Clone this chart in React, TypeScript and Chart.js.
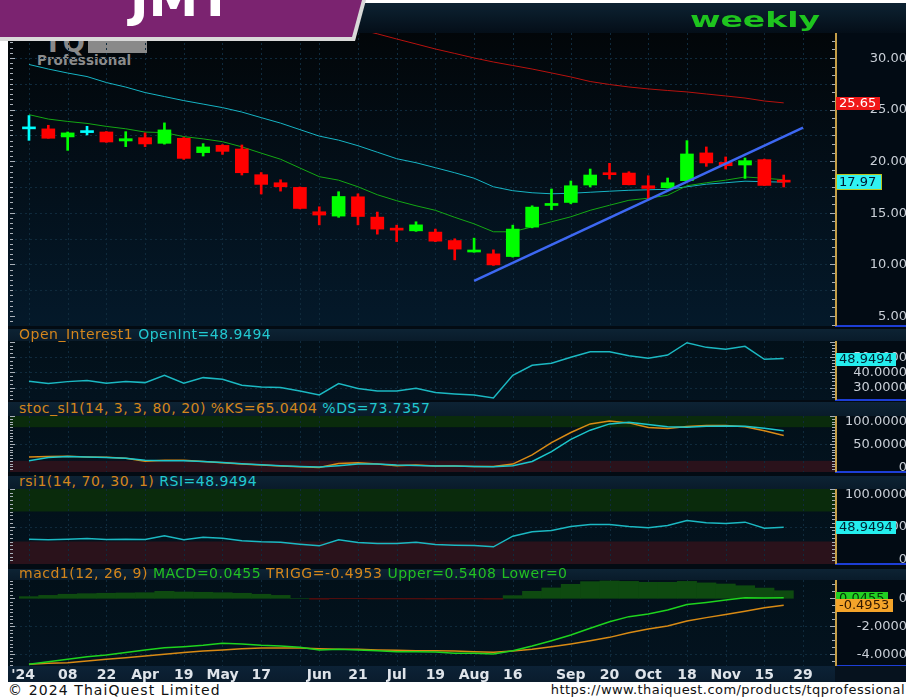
import React, { useEffect, useRef } from "react";
import { Chart, registerables } from "chart.js";

Chart.register(...registerables);

const FONT = '"DejaVu Sans", Verdana, sans-serif';

// ---------- time axis: weekly bars, index 0 = 23 Feb 2024 ----------
const X_MIN = -0.98;
const X_MAX = 41.65;
const GRID_IDX = [0, 2, 4, 6, 8, 10, 12, 14, 15, 17, 19, 21, 23, 25, 27, 28, 30, 32, 34, 36, 38, 40];
const X_LABEL_IDX = [-0.3, 2, 4, 6, 8, 10, 12, 15, 17, 19, 21, 23, 25, 28, 30, 32, 34, 36, 38, 40];
const X_LABELS = ["'24", "08", "22", "Apr", "19", "May", "17", "Jun", "21", "Jul", "19", "Aug", "16", "Sep", "20", "Oct", "18", "Nov", "15", "29"];

// ---------- price candles ----------
const OPEN = [23.13, 23.13, 22.35, 22.77, 22.83, 21.96, 22.28, 21.73, 22.22, 20.83, 21.53, 21.18, 18.69, 17.91, 17.46, 15.10, 14.68, 16.55, 14.58, 13.45, 13.25, 13.13, 12.31, 11.20, 11.02, 10.76, 13.61, 15.71, 16.00, 17.69, 18.88, 18.85, 17.62, 17.43, 18.11, 20.80, 19.88, 19.63, 20.15, 18.05];
const HIGH = [24.42, 23.48, 22.83, 23.38, 22.87, 22.86, 22.74, 23.71, 22.30, 21.70, 21.60, 21.57, 18.90, 18.20, 17.50, 15.58, 17.04, 16.84, 15.07, 13.80, 14.13, 13.42, 12.48, 12.54, 11.41, 13.80, 15.68, 17.30, 18.08, 19.24, 19.79, 18.98, 18.59, 18.37, 21.99, 21.38, 20.41, 20.31, 20.20, 18.66];
const LOW = [22.02, 22.22, 21.05, 22.54, 21.83, 21.41, 21.41, 21.65, 20.17, 20.50, 20.66, 18.66, 16.82, 17.10, 15.38, 13.83, 14.56, 13.83, 12.93, 12.21, 13.20, 12.20, 10.44, 11.18, 9.90, 10.70, 13.54, 15.29, 15.87, 17.50, 18.27, 17.70, 16.33, 17.40, 18.10, 19.50, 19.24, 18.33, 17.65, 17.50];
const CLOSE = [23.13, 22.22, 22.74, 22.77, 21.86, 22.18, 21.67, 23.03, 20.27, 21.38, 20.95, 18.88, 17.75, 17.52, 15.42, 14.78, 16.58, 14.64, 13.42, 13.32, 13.83, 12.25, 11.48, 11.26, 9.95, 13.42, 15.55, 15.90, 17.62, 18.66, 18.69, 17.72, 17.36, 17.91, 20.70, 19.83, 19.56, 20.05, 17.65, 17.97];

// ---------- moving averages ----------
const MA_GREEN = [24.51, 24.08, 23.85, 23.66, 23.37, 23.14, 22.82, 22.77, 22.38, 22.16, 21.89, 21.39, 20.78, 20.19, 19.34, 18.50, 18.16, 17.52, 16.75, 16.17, 15.68, 15.24, 14.56, 13.93, 13.16, 13.16, 13.64, 14.13, 14.61, 15.24, 15.73, 16.21, 16.41, 16.70, 17.62, 17.91, 18.16, 18.47, 18.35, 18.20];
const MA_CYAN = [29.37, 28.93, 28.54, 28.20, 27.62, 27.18, 26.65, 26.26, 25.87, 25.53, 25.19, 24.76, 24.22, 23.69, 23.06, 22.43, 22.04, 21.50, 20.87, 20.24, 19.85, 19.37, 18.88, 18.35, 17.52, 17.14, 16.94, 16.84, 16.89, 16.99, 17.09, 17.18, 17.23, 17.28, 17.52, 17.77, 17.91, 18.06, 18.01, 17.97];
const MA_RED_START = 16;
const MA_RED = [33.29, 32.81, 32.34, 31.84, 31.36, 30.87, 30.44, 30.00, 29.61, 29.27, 28.93, 28.55, 28.16, 27.72, 27.43, 27.19, 27.00, 26.85, 26.71, 26.51, 26.32, 26.12, 25.83, 25.65];
const TREND_X = [23, 40];
const TREND_Y = [8.40, 23.25];
const MAIN_TICKS = [5, 10, 15, 20, 25, 30];

// ---------- indicators ----------
const OPEN_INT = [34.13, 32.61, 33.91, 34.57, 32.83, 33.91, 33.26, 38.04, 32.83, 36.52, 35.43, 31.52, 30.43, 30.00, 27.83, 25.22, 32.61, 29.35, 27.83, 27.83, 29.57, 26.74, 25.87, 25.22, 23.26, 38.04, 44.57, 45.87, 49.78, 53.48, 53.48, 50.87, 49.13, 51.30, 59.35, 56.30, 55.00, 56.96, 48.48, 48.95];
const OI_TICKS = [30, 40, 50];

const STOCH_K = [27.0, 27.6, 28.2, 27.0, 26.4, 24.7, 19.4, 21.1, 21.1, 18.8, 16.4, 14.1, 12.3, 10.5, 9.4, 8.2, 15.3, 16.4, 14.1, 11.1, 12.3, 10.5, 10.5, 10.0, 10.0, 14.1, 30.6, 52.4, 70.6, 85.9, 91.2, 87.7, 79.5, 77.7, 81.2, 83.0, 83.0, 80.6, 73.6, 65.04];
const STOCH_D = [20.0, 25.9, 27.6, 27.0, 25.9, 24.7, 21.1, 20.0, 20.0, 18.8, 17.0, 14.7, 12.9, 11.1, 10.0, 8.8, 11.1, 14.1, 14.1, 12.3, 11.7, 10.5, 10.5, 10.0, 9.4, 11.1, 18.8, 36.5, 58.2, 74.7, 85.9, 88.9, 84.7, 80.6, 80.0, 81.7, 82.3, 81.7, 78.3, 73.74];
const STOCH_TICKS = [0, 50, 100];

const RSI = [33.1, 32.2, 33.1, 34.0, 32.7, 33.1, 32.7, 37.6, 32.2, 35.8, 34.4, 30.9, 29.6, 29.1, 26.4, 24.2, 32.2, 28.7, 27.3, 27.3, 29.1, 26.0, 25.1, 24.7, 22.9, 37.1, 42.9, 44.7, 50.0, 52.7, 52.7, 50.0, 48.2, 51.3, 58.0, 54.9, 54.0, 55.8, 47.8, 48.95];
const RSI_TICKS = [0, 50, 100];

const MACD = [-4.71, -4.53, -4.36, -4.17, -4.05, -3.88, -3.69, -3.53, -3.46, -3.36, -3.21, -3.26, -3.36, -3.41, -3.50, -3.69, -3.64, -3.69, -3.74, -3.81, -3.81, -3.84, -3.93, -3.93, -3.98, -3.74, -3.41, -3.03, -2.62, -2.14, -1.67, -1.31, -1.12, -0.84, -0.45, -0.30, -0.12, 0.04, 0.03, 0.0455];
const TRIGG = [-4.71, -4.64, -4.60, -4.48, -4.36, -4.24, -4.12, -4.00, -3.88, -3.76, -3.69, -3.60, -3.55, -3.55, -3.55, -3.60, -3.64, -3.64, -3.69, -3.71, -3.74, -3.74, -3.76, -3.81, -3.86, -3.76, -3.64, -3.46, -3.26, -3.03, -2.79, -2.46, -2.19, -1.98, -1.62, -1.38, -1.16, -0.92, -0.68, -0.4953];
const HIST = [0.12, 0.21, 0.29, 0.33, 0.36, 0.38, 0.40, 0.50, 0.45, 0.43, 0.40, 0.36, 0.29, 0.21, 0.00, -0.07, -0.03, -0.03, -0.05, -0.05, -0.05, -0.06, -0.05, -0.05, -0.07, 0.19, 0.50, 0.74, 1.00, 1.19, 1.24, 1.21, 1.14, 1.14, 1.21, 1.10, 1.02, 0.90, 0.73, 0.54];
const MACD_TICKS = [-4, -2, 0];

// ---------- layout constants ----------
const CANVAS_LEFT = 10;
const CANVAS_W = 898;
const AXIS_W = 73;

const pts = (arr: number[], start = 0) => arr.map((v, i) => ({ x: i + start, y: v }));

type Box = { value: number; text: string; bg: string; fg: string; border?: string };
type Decor = {
  zones?: { from: number; to: number; color: string }[];
  hgrid?: number[];
  stepL: number;
  stepR: number;
  major: number;
  dec: number;
  boxes?: Box[];
};

function makeDecor(o: Decor) {
  return {
    id: "decor",
    beforeDatasetsDraw(chart: any) {
      const { ctx, chartArea: a } = chart;
      const xs = chart.scales.x;
      const ys = chart.scales.y;
      ctx.save();
      ctx.beginPath();
      ctx.rect(a.left, a.top, a.right - a.left, a.bottom - a.top);
      ctx.clip();
      for (const z of o.zones || []) {
        const t = ys.getPixelForValue(z.to);
        const b = ys.getPixelForValue(z.from);
        ctx.fillStyle = z.color;
        ctx.fillRect(a.left, t, a.right - a.left, b - t);
      }
      ctx.strokeStyle = "#0f2a3c";
      ctx.lineWidth = 1;
      ctx.setLineDash([2, 3]);
      for (const v of GRID_IDX) {
        const px = Math.round(xs.getPixelForValue(v)) + 0.5;
        ctx.beginPath();
        ctx.moveTo(px, a.top);
        ctx.lineTo(px, a.bottom);
        ctx.stroke();
      }
      for (const v of o.hgrid || []) {
        const py = Math.round(ys.getPixelForValue(v)) + 0.5;
        ctx.beginPath();
        ctx.moveTo(a.left, py);
        ctx.lineTo(a.right, py);
        ctx.stroke();
      }
      ctx.restore();
    },
    afterDraw(chart: any) {
      const { ctx, chartArea: a } = chart;
      const ys = chart.scales.y;
      ctx.save();
      const marks = (step: number, side: "l" | "r") => {
        const k0 = Math.ceil(ys.min / step - 1e-9);
        const k1 = Math.floor(ys.max / step + 1e-9);
        for (let k = k0; k <= k1; k++) {
          const v = k * step;
          const r = v / o.major;
          const isMaj = Math.abs(r - Math.round(r)) < 1e-6;
          const len = isMaj ? 5 : 3;
          const py = Math.round(ys.getPixelForValue(v));
          if (py < a.top || py > a.bottom - 1) continue;
          ctx.fillRect(side === "l" ? a.left : a.right - len, py, len, 1);
        }
      };
      ctx.fillStyle = "#a9b0b8";
      marks(o.stepL, "l");
      marks(o.stepR, "r");
      ctx.fillStyle = "#c49e48";
      ctx.fillRect(a.right, a.top, 2, a.bottom - a.top);
      ctx.font = `13px ${FONT}`;
      ctx.textAlign = "right";
      ctx.textBaseline = "middle";
      ctx.fillStyle = "#c9cfd7";
      for (const t of ys.ticks) {
        let py = ys.getPixelForValue(t.value);
        py = Math.min(Math.max(py, a.top + 5), a.bottom - 5);
        const txt = t.value === 0 ? "0" : Number(t.value).toFixed(o.dec);
        ctx.fillText(txt, chart.width - 1, py + 0.5);
      }
      ctx.textAlign = "left";
      for (const b of o.boxes || []) {
        const py = Math.round(ys.getPixelForValue(b.value));
        const w = Math.ceil(ctx.measureText(b.text).width) + 6;
        const x0 = a.right + 1;
        if (b.border) {
          ctx.fillStyle = b.border;
          ctx.fillRect(x0, py - 8, w + 2, 16);
          ctx.fillStyle = b.bg;
          ctx.fillRect(x0 + 1, py - 7, w, 14);
        } else {
          ctx.fillStyle = b.bg;
          ctx.fillRect(x0, py - 6, w, 13);
        }
        ctx.fillStyle = b.fg;
        ctx.fillText(b.text, x0 + 3, py + 1);
      }
      ctx.restore();
    },
  };
}

function makeConfig(datasets: any[], yMin: number, yMax: number, ticks: number[], decor: Decor, showX = false) {
  const xAxis: any = showX
    ? {
        type: "linear",
        min: X_MIN,
        max: X_MAX,
        offset: false,
        position: "bottom",
        grid: { display: false, drawTicks: false },
        border: { display: false },
        afterBuildTicks: (ax: any) => {
          ax.ticks = X_LABEL_IDX.map((v) => ({ value: v }));
        },
        afterFit: (ax: any) => {
          ax.height = 16;
          ax.paddingLeft = 0;
          ax.paddingRight = 0;
        },
        ticks: {
          autoSkip: false,
          maxRotation: 0,
          minRotation: 0,
          padding: 1,
          color: "#dfe4ea",
          font: { family: FONT, size: 14, weight: "bold" },
          callback: (_v: any, i: number) => X_LABELS[i],
        },
      }
    : { type: "linear", min: X_MIN, max: X_MAX, offset: false, display: false };
  return {
    type: "bar",
    data: { datasets },
    options: {
      animation: false,
      responsive: false,
      maintainAspectRatio: false,
      events: [],
      layout: { padding: 0 },
      plugins: { legend: { display: false }, tooltip: { enabled: false } },
      scales: {
        x: xAxis,
        y: {
          type: "linear",
          position: "right",
          min: yMin,
          max: yMax,
          afterBuildTicks: (ax: any) => {
            ax.ticks = ticks.map((v) => ({ value: v }));
          },
          afterFit: (ax: any) => {
            ax.width = AXIS_W;
            ax.paddingTop = 0;
            ax.paddingBottom = 0;
          },
          ticks: { display: false },
          grid: { display: false, drawTicks: false },
          border: { display: false },
        },
      },
    },
    plugins: [makeDecor(decor)],
  };
}

const line = (data: any[], color: string, width = 1) => ({
  type: "line",
  data,
  borderColor: color,
  borderWidth: width,
  pointRadius: 0,
  tension: 0,
  fill: false,
});

const candleColor = OPEN.map((o, i) => (CLOSE[i] > o ? "#00ff00" : CLOSE[i] < o ? "#ff0000" : "#00ffff"));

function mainConfig() {
  const datasets = [
    line(TREND_X.map((x, i) => ({ x, y: TREND_Y[i] })), "#3d68f2", 2.5),
    {
      type: "bar",
      data: OPEN.map((o, i) => ({ x: i, y: [o, CLOSE[i]] })),
      backgroundColor: candleColor,
      barThickness: 13,
      minBarLength: 2,
      grouped: false,
      borderWidth: 0,
    },
    {
      type: "bar",
      data: HIGH.map((h, i) => ({ x: i, y: [LOW[i], h] })),
      backgroundColor: candleColor,
      barThickness: 2,
      grouped: false,
      borderWidth: 0,
    },
    line(pts(MA_GREEN), "#14a814", 1),
    line(pts(MA_CYAN), "#16b4c4", 1),
    line(pts(MA_RED, MA_RED_START), "#b8120e", 1),
  ];
  return makeConfig(datasets, 4.03, 32.42, MAIN_TICKS, {
    hgrid: [7.5, 10, 12.5, 15, 17.5, 20, 22.5, 25, 27.5, 30],
    stepL: 0.5,
    stepR: 5 / 6,
    major: 5,
    dec: 2,
    boxes: [
      { value: 25.65, text: "25.65", bg: "#f01818", fg: "#ffffff" },
      { value: 17.97, text: "17.97", bg: "#30f2f2", fg: "#001830", border: "#b9c41e" },
    ],
  });
}

function oiConfig() {
  return makeConfig([line(pts(OPEN_INT), "#1bb8c2", 1.5)], 21.9, 60.46, OI_TICKS, {
    hgrid: [30, 40, 50],
    stepL: 2.5,
    stepR: 2,
    major: 10,
    dec: 4,
    boxes: [{ value: 48.9494, text: "48.9494", bg: "#24eeee", fg: "#002030" }],
  });
}

function stochConfig() {
  return makeConfig(
    [line(pts(STOCH_D), "#1cc6cc", 1.5), line(pts(STOCH_K), "#d98b15", 1.5)],
    0,
    100,
    STOCH_TICKS,
    {
      zones: [
        { from: 80, to: 100, color: "#0a2b0c" },
        { from: 0, to: 20, color: "#2a121b" },
      ],
      hgrid: [50],
      stepL: 5,
      stepR: 5,
      major: 50,
      dec: 4,
    }
  );
}

function rsiConfig() {
  return makeConfig([line(pts(RSI), "#1bb8c2", 1.5)], 0, 100, RSI_TICKS, {
    zones: [
      { from: 70, to: 100, color: "#0a2b0c" },
      { from: 0, to: 30, color: "#2a121b" },
    ],
    hgrid: [50],
    stepL: 5,
    stepR: 5,
    major: 50,
    dec: 4,
    boxes: [{ value: 48.9494, text: "48.9494", bg: "#24eeee", fg: "#002030" }],
  });
}

function macdConfig() {
  const datasets = [
    line(pts(MACD), "#1ed41e", 1.5),
    line(pts(TRIGG), "#d88a14", 1.5),
    {
      type: "bar",
      data: pts(HIST),
      backgroundColor: HIST.map((v) => (v >= 0 ? "#0e4a10" : "#4f0d0d")),
      barPercentage: 1,
      categoryPercentage: 1,
      grouped: false,
      borderWidth: 0,
    },
  ];
  return makeConfig(
    datasets,
    -4.836,
    1.307,
    MACD_TICKS,
    {
      hgrid: [-4, -2],
      stepL: 0.25,
      stepR: 0.5,
      major: 2,
      dec: 4,
      boxes: [
        { value: 0.0455, text: "0.0455", bg: "#22d022", fg: "#003008" },
        { value: -0.4953, text: "-0.4953", bg: "#f4a42a", fg: "#301800" },
      ],
    },
    true
  );
}

function Panel({ top, height, cfg }: { top: number; height: number; cfg: () => any }) {
  const ref = useRef<HTMLCanvasElement>(null);
  useEffect(() => {
    const ch = new Chart(ref.current as HTMLCanvasElement, cfg() as any);
    return () => ch.destroy();
  }, []);
  return (
    <canvas
      ref={ref}
      width={CANVAS_W}
      height={height}
      style={{ position: "absolute", left: CANVAS_LEFT, top, width: CANVAS_W, height, zIndex: 2 }}
    />
  );
}

const abs = (left: number, top: number, width: number, height: number, background: string, extra: any = {}) => (
  <div style={{ position: "absolute", left, top, width, height, background, ...extra }} />
);

const ORANGE = "#d4861c";
const CYAN = "#22c8d0";
const GREEN = "#22c022";

function Title({ top, height, parts }: { top: number; height: number; parts: [string, string][] }) {
  return (
    <div
      style={{
        position: "absolute",
        left: 8,
        top,
        width: 898,
        height,
        background: "linear-gradient(#0d2334, #091b2a)",
        zIndex: 3,
      }}
    >
      <div
        style={{
          position: "absolute",
          left: 11,
          top: -1,
          lineHeight: `${height}px`,
          fontSize: 14,
          letterSpacing: 0.5,
          whiteSpace: "pre",
          fontFamily: FONT,
        }}
      >
        {parts.map(([t, c], i) => (
          <span key={i} style={{ color: c }}>
            {t}
          </span>
        ))}
      </div>
    </div>
  );
}

const PLOT_BG = "linear-gradient(#021019, #03131f)";
const AXIS_BG = "#020b14";
const BLUE = "#1d3ed6";

export default function App() {
  useEffect(() => {
    document.body.style.margin = "0";
    document.body.style.overflow = "hidden";
  }, []);

  const sub = [
    { top: 341, h: 59 },
    { top: 416, h: 56 },
    { top: 489, h: 75 },
    { top: 580, h: 86 },
  ];

  return (
    <div style={{ position: "relative", width: 906, height: 698, overflow: "hidden", background: "#ffffff", fontFamily: FONT }}>
      {abs(8, 3, 898, 679, "#030b13")}
      {abs(8, 3, 898, 30, "linear-gradient(#0d2232, #040e18)")}
      {abs(8, 33, 827, 293, "linear-gradient(#020609, #04192a)")}
      {abs(835, 33, 71, 293, AXIS_BG)}
      {abs(835, 325, 71, 2, BLUE)}
      {sub.map((s, i) => (
        <React.Fragment key={i}>
          {abs(8, s.top, 827, s.h, PLOT_BG)}
          {abs(835, s.top, 71, s.h, AXIS_BG)}
          {abs(835, s.top + s.h - 1, 71, 2, BLUE)}
        </React.Fragment>
      ))}
      {abs(8, 666, 827, 16, "linear-gradient(#0c2236, #0a1c2d)")}
      {abs(835, 666, 71, 16, "#06121e")}

      {/* watermark logo */}
      <div style={{ position: "absolute", left: 44, top: 30, fontSize: 26, fontWeight: "bold", color: "#8a8a8a", lineHeight: "26px", letterSpacing: 1 }}>
        TQ
      </div>
      {abs(88, 38, 59, 15, "#8a8a8a")}
      <div style={{ position: "absolute", left: 37, top: 52, fontSize: 13.5, fontWeight: "bold", color: "#8c8c8c", lineHeight: "16px" }}>
        Professional
      </div>

      <div
        style={{
          position: "absolute",
          left: 690,
          top: 6,
          fontSize: 22,
          fontWeight: "bold",
          color: "#1ec41e",
          lineHeight: "28px",
          transform: "scaleX(1.5)",
          transformOrigin: "left center",
          zIndex: 3,
        }}
      >
        weekly
      </div>

      <Panel top={33} height={293} cfg={mainConfig} />
      <Panel top={341} height={59} cfg={oiConfig} />
      <Panel top={416} height={56} cfg={stochConfig} />
      <Panel top={489} height={75} cfg={rsiConfig} />
      <Panel top={580} height={102} cfg={macdConfig} />

      <Title top={329} height={12} parts={[["Open_Interest1 ", ORANGE], ["OpenInt=48.9494", CYAN]]} />
      <Title top={402} height={14} parts={[["stoc_sl1(14, 3, 3, 80, 20) %KS=65.0404 ", ORANGE], ["%DS=73.7357", CYAN]]} />
      <Title top={476} height={13} parts={[["rsi1(14, 70, 30, 1) ", ORANGE], ["RSI=48.9494", CYAN]]} />
      <Title
        top={569}
        height={11}
        parts={[
          ["macd1(12, 26, 9) ", ORANGE],
          ["MACD=0.0455 ", GREEN],
          ["TRIGG=-0.4953 ", ORANGE],
          ["Upper=0.5408 Lower=0", GREEN],
        ]}
      />

      {/* banner */}
      <div style={{ position: "absolute", left: 0, top: 0, width: 370, height: 42, background: "#d9d9d9", clipPath: "polygon(0 0, 366px 0, 355px 41px, 0 41px)", zIndex: 4 }} />
      <div style={{ position: "absolute", left: 0, top: 0, width: 370, height: 42, background: "#7b2370", clipPath: "polygon(0 0, 362px 0, 352px 37px, 0 37px)", zIndex: 5 }} />
      <div style={{ position: "absolute", left: 130, top: -26, fontSize: 50, fontWeight: "bold", color: "#ffffff", lineHeight: "50px", zIndex: 6 }}>JMT</div>

      {/* footer */}
      <div style={{ position: "absolute", left: 8, top: 682, height: 16, lineHeight: "16px", fontSize: 14, letterSpacing: 1.1, color: "#111", whiteSpace: "nowrap" }}>
        © 2024 ThaiQuest Limited
      </div>
      <div style={{ position: "absolute", right: 1, top: 682, height: 16, lineHeight: "16px", fontSize: 13, letterSpacing: 0.45, color: "#111", whiteSpace: "nowrap" }}>
        https://www.thaiquest.com/products/tqprofessional
      </div>
    </div>
  );
}
